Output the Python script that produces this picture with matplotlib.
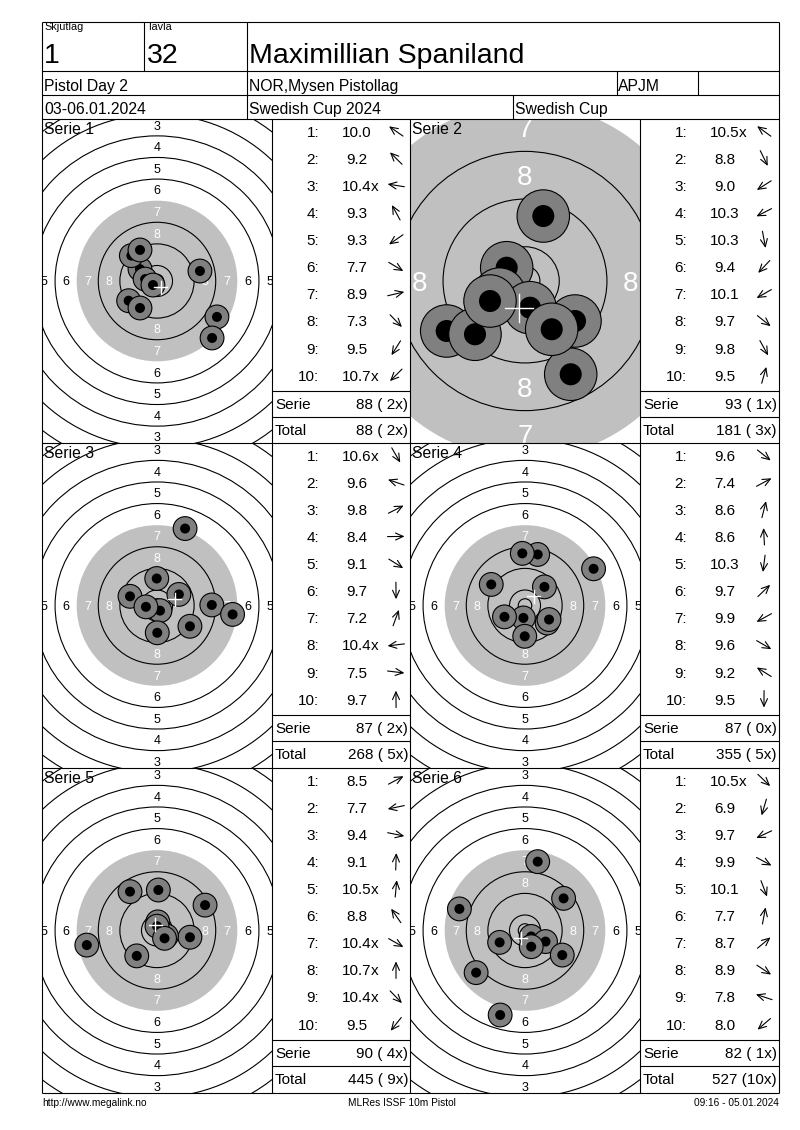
import numpy as np
import matplotlib
matplotlib.use("Agg")
import matplotlib.pyplot as plt
from matplotlib.patches import Circle

plt.rcParams['font.family'] = ['Liberation Sans', 'DejaVu Sans']

# header
relay = "1"
lane = "32"
shooter = "Maximillian Spaniland"
event = "Pistol Day 2"
club = "NOR,Mysen Pistollag"
klass = "APJM"
dates = "03-06.01.2024"
comp = "Swedish Cup 2024"
cup = "Swedish Cup"
footer = ["http://www.megalink.no", "MLRes ISSF 10m Pistol", "09:16 - 05.01.2024"]

# shots: mm from centre (x right, y up), score strings
s1_x = [-6.3, -9.5, -4.4, -6.3, -10.5, 22.2, 15.9, 20.4, -6.3, -1.5]
s1_y = [4.4, 9.4, 0.7, 11.5, -7.3, -13.3, 3.7, -21.1, -10.0, -1.5]
s1_score = ["10.0", "9.2", "10.4x", "9.3", "9.3", "7.7", "8.9", "7.3", "9.5", "10.7x"]

s2_x = [-3.07, 7.67, -13.14, -4.3, 0.84, -8.39, -5.87, 8.39, 4.48, 3.07]
s2_y = [2.23, -15.65, -8.39, -2.2, -4.48, -8.94, -3.36, -6.71, -8.10, 10.90]
s2_score = ["10.5x", "8.8", "9.0", "10.3", "10.3", "9.4", "10.1", "9.7", "9.8", "9.5"]

s3_x = [1.1, -10.0, 8.1, 20.3, 12.2, 0.1, 10.4, -4.1, 28.0, -0.1]
s3_y = [-1.9, 3.4, 4.1, 0.2, -7.7, -10.1, 28.5, -0.5, -3.3, 10.0]
s3_score = ["10.6x", "9.6", "9.8", "8.4", "9.1", "9.7", "7.2", "10.4x", "7.5", "9.7"]

s4_x = [8.2, 25.4, 4.7, -1.0, -0.6, 7.2, -7.6, 8.9, -12.5, -0.1]
s4_y = [-6.5, 13.6, 18.9, 19.3, -4.6, 6.9, -4.2, -5.2, 7.8, -11.4]
s4_score = ["9.6", "7.4", "8.6", "8.6", "10.3", "9.7", "9.9", "9.6", "9.2", "9.5"]

s5_x = [17.8, -26.0, 12.2, 0.5, 0.3, -10.0, 3.5, 0.0, 2.8, -7.5]
s5_y = [9.4, -5.4, -2.5, 15.0, 3.2, 14.4, -2.0, 1.6, -2.9, -9.4]
s5_score = ["8.5", "7.7", "9.4", "9.1", "10.5x", "8.8", "10.4x", "10.7x", "10.4x", "9.5"]

s6_x = [2.3, -9.2, -9.4, 7.6, 2.3, 4.7, 14.3, 13.8, -24.3, -18.1]
s6_y = [-2.2, -31.3, -4.4, -4.1, -6.0, 25.5, 11.9, -9.1, 8.0, -15.6]
s6_score = ["10.5x", "6.9", "9.7", "9.9", "10.1", "7.7", "8.7", "8.9", "7.8", "8.0"]

serie_names = ["Serie 1", "Serie 2", "Serie 3", "Serie 4", "Serie 5", "Serie 6"]
all_x = [s1_x, s2_x, s3_x, s4_x, s5_x, s6_x]
all_y = [s1_y, s2_y, s3_y, s4_y, s5_y, s6_y]
all_score = [s1_score, s2_score, s3_score, s4_score, s5_score, s6_score]

# pixels per mm of each target picture (serie 2 is zoomed in)
px_per_mm = [2.7, 5.96, 2.7, 2.7, 2.7, 2.7]

W, H = 800, 1130
col_x = [42, 272, 410, 640, 779]
row_y = [119, 443, 768, 1093]
LW = 0.8

fig = plt.figure(figsize=(8, 11.3), dpi=100)
base = fig.add_axes([0, 0, 1, 1])
base.set_xlim(0, W)
base.set_ylim(H, 0)
base.axis('off')
base.set_zorder(5)
base.patch.set_alpha(0)


def hline(y, x0, x1):
    base.plot([x0, x1], [y, y], color='black', lw=LW, solid_capstyle='butt')


def vline(x, y0, y1):
    base.plot([x, x], [y0, y1], color='black', lw=LW, solid_capstyle='butt')


# header frame
top = 21.7
hline(top, 42, 779)
hline(70.7, 42, 779)
hline(95, 42, 779)
hline(119, 42, 779)
vline(42, top, 1093)
vline(779, top, 1093)
vline(144, top, 70.7)
vline(246.7, top, 119)
vline(616.7, 70.7, 95)
vline(698.3, 70.7, 95)
vline(513.3, 95, 119)

base.text(44, 30.5, "Skjutlag", fontsize=7.8, va='baseline')
base.text(146.5, 30.5, "Tavla", fontsize=7.8, va='baseline')
base.text(44, 63, relay, fontsize=20.5, va='baseline')
base.text(147, 63, lane, fontsize=20.5, va='baseline')
base.text(249, 63, shooter, fontsize=20.5, va='baseline')
base.text(44, 90.7, event, fontsize=11.3, va='baseline')
base.text(249, 90.7, club, fontsize=11.3, va='baseline')
base.text(618, 90.7, klass, fontsize=11.3, va='baseline')
base.text(44, 114, dates, fontsize=11.3, va='baseline')
base.text(249, 114, comp, fontsize=11.3, va='baseline')
base.text(515, 114, cup, fontsize=11.3, va='baseline')

# grid
for x in col_x[1:4]:
    vline(x, row_y[0], row_y[-1])
for y in row_y[1:]:
    hline(y, 42, 779)

base.text(42, 1106, footer[0], fontsize=7.3, va='baseline', ha='left')
base.text(402, 1106, footer[1], fontsize=7.3, va='baseline', ha='center')
base.text(779, 1106, footer[2], fontsize=7.3, va='baseline', ha='right')


def ring_radius(k):
    return 5.75 + (10 - k) * 8.0


def draw_target(ax, xs, ys, pxmm, pw, ph):
    hw, hh = pw / pxmm / 2, ph / pxmm / 2
    ax.set_xlim(-hw, hw)
    ax.set_ylim(-hh, hh)
    ax.axis('off')
    ax.add_patch(Circle((0, 0), ring_radius(7), fc='#c0c0c0', ec='none', zorder=1))
    for k in [1, 2, 3, 4, 5, 6, 8, 9, 10]:
        ax.add_patch(Circle((0, 0), ring_radius(k), fill=False, ec='black', lw=LW, zorder=2))
    ax.add_patch(Circle((0, 0), 2.5, fill=False, ec='black', lw=LW, zorder=2))
    fs = 9.0 * pxmm / 2.7
    em = fs * 100 / 72 / pxmm
    dh = 0.716 * em
    dw = 0.556 * em
    for k in range(1, 9):
        rl = ring_radius(k) - 4.0
        col = 'white' if k >= 7 else 'black'
        spots = []
        if rl - dh / 2 < hh:
            spots += [(0, rl), (0, -rl)]
        if rl - dw / 2 < hw:
            spots += [(rl, 0), (-rl, 0)]
        for px, py in spots:
            ax.text(px, py - dh / 2, str(k), fontsize=fs, color=col, ha='center',
                    va='baseline', clip_on=True, clip_box=ax.bbox, zorder=3)
    for x, y in zip(xs, ys):
        ax.add_patch(Circle((x, y), 4.4, fc='#808080', ec='black', lw=LW, zorder=4))
        ax.add_patch(Circle((x, y), 1.85, fc='black', ec='none', zorder=4))
    mx, my = np.mean(xs), np.mean(ys)
    c = 2.35
    ax.plot([mx - c, mx + c], [my, my], color='white', lw=1, zorder=6)
    ax.plot([mx, mx], [my - c, my + c], color='white', lw=1, zorder=6)


total = 0
total_x = 0
for i in range(6):
    r, c = i // 2, i % 2
    x0, x1 = col_x[2 * c], col_x[2 * c + 1]
    y0, y1 = row_y[r], row_y[r + 1]
    ax = fig.add_axes([x0 / W, 1 - y1 / H, (x1 - x0) / W, (y1 - y0) / H])
    ax.set_zorder(1)
    draw_target(ax, all_x[i], all_y[i], px_per_mm[i], x1 - x0, y1 - y0)
    base.text(x0 + 2, y0 + 15, serie_names[i], fontsize=11.3, va='baseline')

    # score table
    tx, tx1 = col_x[2 * c + 1], col_x[2 * c + 2]
    fs = 11
    half4 = 1.946 * fs * 100 / 72 / 2 * 0.96
    for j, s in enumerate(all_score[i]):
        yb = y0 + 17.7 + 27.1 * j
        base.text(tx + 47, yb, f"{j + 1}:", fontsize=fs, ha='right', va='baseline')
        num = s.rstrip('x')
        base.text(tx + 85, yb, num, fontsize=fs, ha='center', va='baseline')
        if s.endswith('x'):
            base.text(tx + 85 + half4, yb, 'x', fontsize=fs, ha='left', va='baseline')
        ang = np.arctan2(all_y[i][j], all_x[i][j])
        L = 8.5
        cx, cy = tx + 124, yb - 5.5
        base.annotate('', xy=(cx + L * np.cos(ang), cy - L * np.sin(ang)),
                      xytext=(cx - L * np.cos(ang), cy + L * np.sin(ang)),
                      arrowprops=dict(arrowstyle='->,head_length=0.55,head_width=0.25',
                                      lw=0.8, color='black', shrinkA=0, shrinkB=0,
                                      mutation_scale=10))
    pts = [int(float(s.rstrip('x'))) for s in all_score[i]]
    nx = sum(s.endswith('x') for s in all_score[i])
    total += sum(pts)
    total_x += nx
    hline(y0 + 272, tx, tx1)
    hline(y0 + 297.5, tx, tx1)
    base.text(tx + 3, y0 + 290, "Serie", fontsize=fs, va='baseline')
    base.text(tx1 - 2, y0 + 290, f"{sum(pts)} ({nx:>2}x)", fontsize=fs, va='baseline', ha='right')
    base.text(tx + 3, y0 + 316, "Total", fontsize=fs, va='baseline')
    base.text(tx1 - 2, y0 + 316, f"{total} ({total_x:>2}x)", fontsize=fs, va='baseline', ha='right')

fig.savefig("out.png", dpi=100)
